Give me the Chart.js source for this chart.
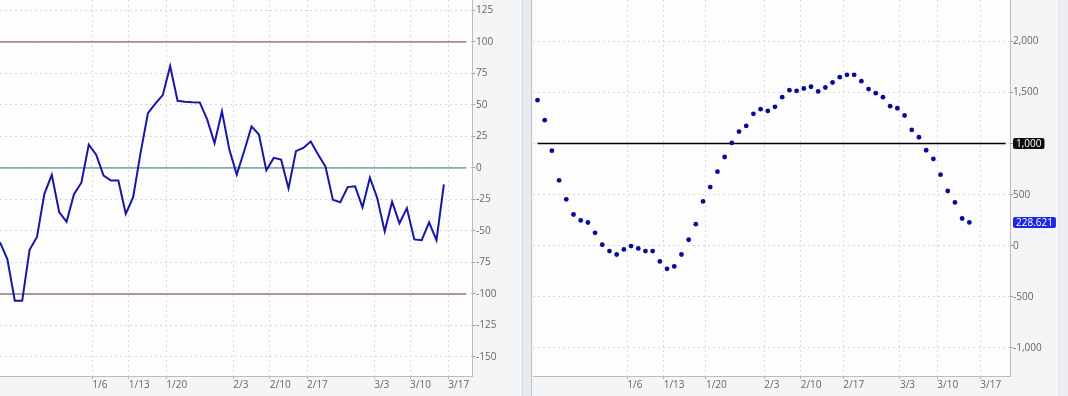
<!DOCTYPE html>
<html><head><meta charset="utf-8">
<script src="https://cdn.jsdelivr.net/npm/chart.js@4.4.1/dist/chart.umd.min.js"></script>
<style>
html,body{margin:0;padding:0;}
body{width:1068px;height:396px;overflow:hidden;background:#f4f5f6;position:relative;}
#lw{position:absolute;left:0;top:0;width:522px;height:396px;}
#sep{position:absolute;left:522px;top:0;width:8px;height:396px;background:#e9ecef;border-left:1px solid #d8dde3;border-right:1px solid #bac4cf;}
#rw{position:absolute;left:533px;top:0;width:535px;height:396px;}
#edge{position:absolute;left:1058px;top:0;width:9px;height:396px;background:#eceef1;border-left:1px solid #dfe3e8;}
canvas{display:block;}
</style></head>
<body>
<div id="edge"></div>
<div id="sep"></div>
<div id="lw"><canvas id="cl" width="522" height="396"></canvas></div>
<div id="rw"><canvas id="cr" width="535" height="396"></canvas></div>
<script>
// ---------- data ----------
const xTickLabels = ['1/6','1/13','1/20','2/3','2/10','2/17','3/3','3/10','3/17'];
const leftXTickPos = [12.48,17.41,22.48,31.54,36.47,41.5,50.58,55.43,60.6];
const rightXTickPos = [12.48,17.54,23.41,31.51,36.57,42.49,50.36,55.55,61.53];

const leftValues = [-59,-72.5,-105.4,-105.4,-65,-54.8,-20.5,-5.5,-35,-42.7,
  -20.8,-11.7,18.5,10.6,-6.1,-10,-10,-36.4,-23.2,12,
  43.5,51,57.8,80.8,53.3,52.6,52.1,52,38.5,19.6,
  45,14.6,-5.3,13.3,33,26.5,-1.9,8,6.6,-16.2,
  13.3,15.9,21,10.6,1,-25.3,-27.2,-15.2,-14.6,-31.2,
  -7.7,-24,-50.3,-26.9,-43.9,-31.9,-56.7,-57.3,-43.1,-57.3,-13];
const leftRefLevels = [100, 0, -100];
const leftYTicks = [125,100,75,50,25,0,-25,-50,-75,-100,-125,-150];

const rightValues = [1425,1229,931,641,455,306,248,228,127,10,
  -52,-85,-36,-3,-26,-52,-52,-153,-225,-202,
  -85,59,212,434,575,725,869,1007,1118,1173,
  1291,1337,1320,1360,1454,1523,1516,1539,1556,1510,
  1549,1598,1650,1673,1673,1611,1533,1493,1454,1366,
  1346,1275,1134,1062,935,850,696,536,424,267,228.621];
const rightRefLevel = 1000;
const rightYTicks = [2000,1500,1000,500,0,-500,-1000];

// ---------- styles ----------
const FONT = {family:'"Open Sans", "Noto Sans", sans-serif', size:10};
const LABEL = '#666';
const GRID = '#d9d9d9';
const BORDER = '#bcbcbc';
const refStyles = [
  {color:'#843636', width:1},
  {color:'#3e6f82', width:1},
  {color:'#ab9797', width:2}
];

const bgPlugin = {id:'bg', beforeDraw(c){
  const a=c.chartArea, x=c.ctx; x.save(); x.fillStyle='#fdfdfd';
  x.fillRect(a.left,a.top,a.right-a.left,a.bottom-a.top); x.restore();
}};

function xAxis(min,max,pos){
  return {type:'linear', position:'bottom', min, max, bounds:'data',
    afterBuildTicks(s){ s.ticks = pos.map(v=>({value:v})); },
    afterFit(s){ s.height=20; s.paddingLeft=0; s.paddingRight=0; },
    grid:{color:GRID, tickLength:3, tickColor:'#b5b5b5'},
    border:{display:true, color:BORDER, width:1, dash:[2,3]},
    ticks:{autoSkip:false, maxRotation:0, minRotation:0, align:'start', padding:0,
      color:LABEL, font:FONT, callback:(v,i)=>xTickLabels[i]}
  };
}
function yAxis(min,max,ticks,width,pad,cb){
  return {type:'linear', position:'right', min, max, bounds:'data',
    afterBuildTicks(s){ s.ticks = ticks.map(v=>({value:v})); },
    afterFit(s){ s.width=width; s.paddingTop=0; s.paddingBottom=0; },
    grid:{color:GRID, tickLength:3, tickColor:'#9c9c9c'},
    border:{display:true, color:BORDER, width:1, dash:[2,3]},
    ticks:{padding:pad, color:LABEL, font:FONT, callback:cb}
  };
}

// ---------- left chart ----------
const leftLineEnd = 63.0;
const leftDatasets = [{
  type:'line', data:leftValues.map((v,i)=>({x:i,y:v})),
  borderColor:'#1717a4', borderWidth:2, pointRadius:0, tension:0, fill:false
}];
leftRefLevels.forEach((l,k)=>leftDatasets.push({
  type:'line', data:[{x:0,y:l},{x:leftLineEnd,y:l}],
  borderColor:refStyles[k].color, borderWidth:refStyles[k].width, pointRadius:0, fill:false
}));

new Chart(document.getElementById('cl'), {
  type:'line',
  data:{datasets:leftDatasets},
  options:{responsive:false, animation:false, devicePixelRatio:1,
    layout:{padding:0, autoPadding:false},
    plugins:{legend:{display:false}, tooltip:{enabled:false}},
    scales:{
      x:xAxis(0,63.8,leftXTickPos),
      y:yAxis(-165.1,133.3,leftYTicks,50,1,v=>String(v))
    }},
  plugins:[bgPlugin]
});

// ---------- right chart ----------
const rightLineEnd = 65.05;
const tagPlugin = {id:'tags', afterDraw(c){
  const y=c.scales.y, ctx=c.ctx, a=c.chartArea;
  const last = rightValues[rightValues.length-1];
  const tags=[
    {v:rightRefLevel, text:rightRefLevel.toLocaleString('en-US'), bg:'#0d0d0d'},
    {v:last, text:last.toFixed(3), bg:'#1f27e6'}
  ];
  ctx.save();
  ctx.font='10px "Open Sans", "Noto Sans", sans-serif';
  tags.forEach(t=>{
    const py=y.getPixelForValue(t.v);
    const w=ctx.measureText(t.text).width+6, h=11, x0=a.right+3, y0=py-h/2;
    ctx.fillStyle=t.bg;
    ctx.beginPath();
    if(ctx.roundRect) ctx.roundRect(x0,y0,w,h,2); else ctx.rect(x0,y0,w,h);
    ctx.fill();
    ctx.fillStyle='#ffffff'; ctx.textBaseline='middle'; ctx.textAlign='left';
    ctx.fillText(t.text,x0+3,py+0.5);
  });
  ctx.restore();
}};

new Chart(document.getElementById('cr'), {
  type:'scatter',
  data:{datasets:[
    {type:'scatter', data:rightValues.map((v,i)=>({x:i,y:v})),
      backgroundColor:'#0a0a98', borderColor:'#0a0a98', pointRadius:2.4, borderWidth:0, showLine:false},
    {type:'line', data:[{x:0,y:rightRefLevel},{x:rightLineEnd,y:rightRefLevel}],
      borderColor:'#000000', borderWidth:1.5, pointRadius:0, fill:false}
  ]},
  options:{responsive:false, animation:false, devicePixelRatio:1,
    layout:{padding:0, autoPadding:false},
    plugins:{legend:{display:false}, tooltip:{enabled:false}},
    scales:{
      x:xAxis(-0.625,65.65,rightXTickPos),
      y:yAxis(-1274,2405,rightYTicks,58,0,v=>v===rightRefLevel?'':v.toLocaleString('en-US'))
    }},
  plugins:[bgPlugin, tagPlugin]
});
</script>
</body></html>
